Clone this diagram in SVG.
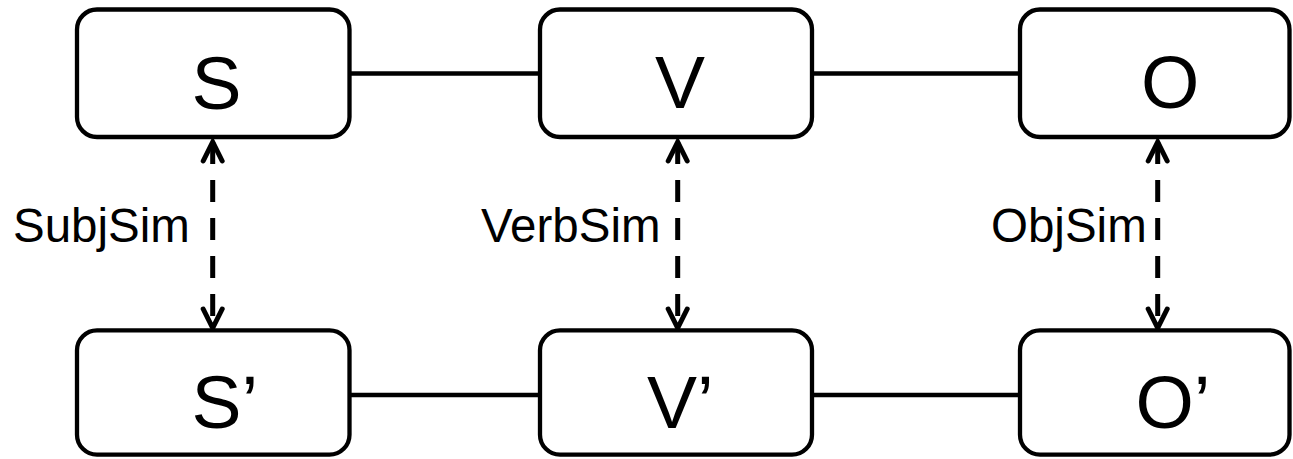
<svg xmlns="http://www.w3.org/2000/svg" width="1293" height="459" viewBox="0 0 1293 459">
<style>
.box{fill:#fff;stroke:#000;stroke-width:4.3}
.lbl{font-family:"Liberation Sans",Arial,sans-serif;font-size:75px;fill:#000}
.sim{font-family:"Liberation Sans",Arial,sans-serif;font-size:47.5px;fill:#000}
.edge{stroke:#000;stroke-width:4.3;fill:none}
.dash{stroke:#000;stroke-width:5;fill:none;stroke-dasharray:22 16}
</style>
<defs>
<marker id="ah" markerUnits="userSpaceOnUse" markerWidth="30" markerHeight="30" viewBox="-25 -15 30 30" refX="0" refY="0" orient="auto-start-reverse">
<path d="M-19,-9.5 L0,0 L-19,9.5" fill="none" stroke="#000" stroke-width="5" stroke-linecap="round" stroke-linejoin="miter"/>
</marker>
</defs>
<g id="connectors">
<line class="edge" x1="349.5" y1="73.5" x2="540" y2="73.5"/>
<line class="edge" x1="812" y1="73.5" x2="1020" y2="73.5"/>
<line class="edge" x1="349.5" y1="395" x2="540" y2="395"/>
<line class="edge" x1="812" y1="395" x2="1020" y2="395"/>
<line class="dash" x1="212.7" y1="142" x2="212.7" y2="328" marker-start="url(#ah)" marker-end="url(#ah)"/>
<line class="dash" x1="677.7" y1="142" x2="677.7" y2="328" marker-start="url(#ah)" marker-end="url(#ah)"/>
<line class="dash" x1="1157.7" y1="142" x2="1157.7" y2="328" marker-start="url(#ah)" marker-end="url(#ah)"/>
<text class="sim" x="13" y="242">SubjSim</text>
<text class="sim" x="481" y="242">VerbSim</text>
<text class="sim" x="991" y="242">ObjSim</text>
</g>
<g id="node-S"><rect class="box" x="77" y="9.5" width="272.5" height="127.5" rx="20"/><text class="lbl" x="191.5" y="109">S</text></g>
<g id="node-V"><rect class="box" x="540" y="9.5" width="272" height="127.5" rx="20"/><text class="lbl" x="655" y="108">V</text></g>
<g id="node-O"><rect class="box" x="1020" y="9.5" width="269.5" height="127.5" rx="20"/><text class="lbl" x="1141" y="108">O</text></g>
<g id="node-S2"><rect class="box" x="77" y="330.3" width="272.5" height="124.4" rx="20"/><text class="lbl" x="191.5" y="428">S’</text></g>
<g id="node-V2"><rect class="box" x="540" y="330.3" width="272" height="124.4" rx="20"/><text class="lbl" x="647" y="428">V’</text></g>
<g id="node-O2"><rect class="box" x="1020" y="330.3" width="269.5" height="124.4" rx="20"/><text class="lbl" x="1135.5" y="428">O’</text></g>
</svg>
